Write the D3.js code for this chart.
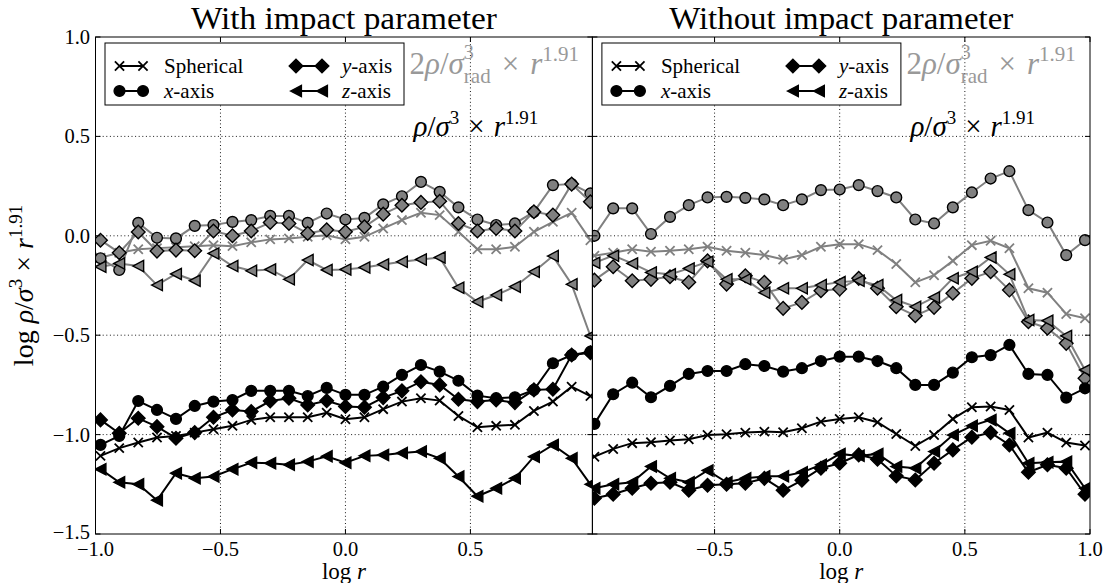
<!DOCTYPE html>
<html><head><meta charset="utf-8">
<script src="https://cdn.jsdelivr.net/npm/d3@7"></script>
<style>body{margin:0;background:#fff}svg{display:block}text{font-family:"Liberation Serif","DejaVu Serif",serif}</style>
</head><body><svg id="c" width="1107" height="583" font-family="Liberation Serif, DejaVu Serif, serif"></svg>
<script>
// ---- data ----
const logR = [-0.980,-0.905,-0.829,-0.754,-0.678,-0.603,-0.528,-0.452,-0.377,-0.301,-0.226,-0.151,-0.075,0.000,0.076,0.151,0.226,0.302,0.377,0.452,0.528,0.603,0.678,0.754,0.830,0.905,0.980];
const panelTitles = ["With impact parameter","Without impact parameter"];
const xTicksLeft = [-1.0,-0.5,0.0,0.5];
const xTicksRight = [-0.5,0.0,0.5,1.0];
const yTicks = [1.0,0.5,0.0,-0.5,-1.0,-1.5];
const legendNames = ["Spherical","x-axis","y-axis","z-axis"];

// With impact parameter: grey = 2rho/sigma_rad^3 r^1.91, black = rho/sigma^3 r^1.91
const withGreySph = [-0.11,-0.085,-0.068,-0.062,-0.058,-0.053,-0.047,-0.052,-0.033,-0.018,-0.013,-0.005,0.003,-0.018,-0.005,0.037,0.079,0.116,0.104,0.02,-0.068,-0.068,-0.055,0.02,0.07,0.116,-0.022];
const withGreyX = [-0.113,-0.172,0.065,-0.010,-0.013,0.050,0.054,0.070,0.079,0.10,0.10,0.065,0.112,0.082,0.090,0.158,0.199,0.271,0.221,0.143,0.082,0.054,0.062,0.12,0.255,0.26,0.213];
const withGreyY = [-0.022,-0.085,0.019,-0.077,-0.072,-0.075,0.024,0.0,0.024,0.067,0.062,0.012,0.03,0.02,0.045,0.109,0.154,0.168,0.174,0.062,0.024,0.037,0.024,0.121,0.104,0.26,0.171];
const withGreyZ = [-0.156,-0.139,-0.152,-0.248,-0.192,-0.226,-0.089,-0.152,-0.176,-0.169,-0.219,-0.122,-0.172,-0.169,-0.159,-0.144,-0.131,-0.119,-0.109,-0.261,-0.332,-0.298,-0.256,-0.181,-0.102,-0.244,-0.504];
const withBlackSph = [-1.107,-1.068,-1.04,-1.015,-1.007,-0.99,-0.973,-0.956,-0.926,-0.913,-0.913,-0.913,-0.89,-0.923,-0.913,-0.872,-0.834,-0.817,-0.829,-0.906,-0.963,-0.956,-0.951,-0.881,-0.834,-0.759,-0.806];
const withBlackX = [-1.052,-1.007,-0.831,-0.876,-0.921,-0.856,-0.834,-0.826,-0.78,-0.78,-0.78,-0.806,-0.765,-0.80,-0.80,-0.759,-0.70,-0.65,-0.683,-0.729,-0.804,-0.817,-0.812,-0.775,-0.641,-0.60,-0.583];
const withBlackY = [-0.926,-0.993,-0.918,-0.96,-1.018,-0.99,-0.913,-0.876,-0.884,-0.831,-0.817,-0.851,-0.83,-0.859,-0.862,-0.814,-0.78,-0.734,-0.75,-0.822,-0.834,-0.826,-0.839,-0.775,-0.772,-0.60,-0.588];
const withBlackZ = [-1.174,-1.24,-1.25,-1.33,-1.194,-1.219,-1.211,-1.174,-1.141,-1.144,-1.152,-1.136,-1.109,-1.141,-1.107,-1.102,-1.093,-1.085,-1.119,-1.211,-1.31,-1.27,-1.22,-1.111,-1.052,-1.119,-1.25];

// Without impact parameter
const withoutGreySph = [-0.10,-0.085,-0.068,-0.08,-0.075,-0.068,-0.055,-0.075,-0.085,-0.097,-0.119,-0.097,-0.055,-0.042,-0.042,-0.072,-0.142,-0.234,-0.198,-0.126,-0.047,-0.025,-0.063,-0.264,-0.286,-0.393,-0.415];
const withoutGreyX = [0.0,0.138,0.138,0.009,0.095,0.154,0.193,0.196,0.191,0.183,0.154,0.183,0.23,0.233,0.255,0.225,0.193,0.082,0.062,0.143,0.218,0.288,0.325,0.129,0.067,-0.097,-0.022];
const withoutGreyY = [-0.223,-0.156,-0.226,-0.219,-0.206,-0.234,-0.126,-0.243,-0.201,-0.234,-0.365,-0.335,-0.276,-0.268,-0.214,-0.264,-0.357,-0.402,-0.36,-0.289,-0.214,-0.181,-0.273,-0.432,-0.465,-0.541,-0.717];
const withoutGreyZ = [-0.136,-0.10,-0.139,-0.184,-0.194,-0.164,-0.131,-0.219,-0.219,-0.286,-0.264,-0.264,-0.248,-0.233,-0.226,-0.248,-0.323,-0.357,-0.31,-0.214,-0.181,-0.109,-0.194,-0.424,-0.427,-0.504,-0.675];
const withoutBlackSph = [-1.111,-1.072,-1.043,-1.038,-1.03,-1.023,-1.002,-0.998,-0.99,-0.985,-0.988,-0.968,-0.935,-0.921,-0.913,-0.938,-0.997,-1.057,-1.002,-0.921,-0.862,-0.859,-0.876,-1.015,-0.99,-1.04,-1.055];
const withoutBlackX = [-0.946,-0.797,-0.739,-0.812,-0.755,-0.695,-0.68,-0.68,-0.646,-0.655,-0.683,-0.666,-0.63,-0.608,-0.608,-0.63,-0.666,-0.75,-0.75,-0.688,-0.611,-0.60,-0.549,-0.695,-0.70,-0.814,-0.767];
const withoutBlackY = [-1.32,-1.30,-1.27,-1.245,-1.24,-1.28,-1.255,-1.25,-1.245,-1.22,-1.28,-1.23,-1.169,-1.144,-1.102,-1.124,-1.208,-1.228,-1.144,-1.077,-1.013,-0.99,-1.052,-1.189,-1.152,-1.169,-1.30];
const withoutBlackZ = [-1.27,-1.25,-1.24,-1.16,-1.22,-1.24,-1.18,-1.24,-1.22,-1.21,-1.21,-1.19,-1.152,-1.097,-1.107,-1.097,-1.161,-1.169,-1.085,-1.002,-0.956,-0.926,-0.993,-1.144,-1.139,-1.136,-1.27];

// ---- layout ----
const svg = d3.select("#c");
const TOP = 37, BOT = 534;
const GREY = "#808080", LABGREY = "#999999";
const panels = [
  {x0:95.5, x1:592.4, dom:[-1.0,0.988], ticks:xTicksLeft, title:panelTitles[0], tl:306,
   series:{grey:[withGreySph,withGreyX,withGreyY,withGreyZ], black:[withBlackSph,withBlackX,withBlackY,withBlackZ]}},
  {x0:592.4, x1:1090, dom:[-0.988,1.0], ticks:xTicksRight, title:panelTitles[1], tl:344,
   series:{grey:[withoutGreySph,withoutGreyX,withoutGreyY,withoutGreyZ], black:[withoutBlackSph,withoutBlackX,withoutBlackY,withoutBlackZ]}}
];
const y = d3.scaleLinear().domain([-1.5,1.0]).range([BOT,TOP]);

const markerPath = {
  0: d3.symbol().type({draw(c){const s=4.6;c.moveTo(-s,-s);c.lineTo(s,s);c.moveTo(-s,s);c.lineTo(s,-s);}})(),
  2: "M0,-6.8L6.8,0L0,6.8L-6.8,0Z",
  3: "M-5.4,0L5.4,-5.6L5.4,5.6Z"
};
function drawMarker(g, k, cx, cy, col){
  if(k===1){
    g.append("circle").attr("cx",cx).attr("cy",cy).attr("r",5.4)
     .attr("fill",col).attr("stroke","#000").attr("stroke-width",1.4);
  } else if(k===0){
    g.append("path").attr("d",markerPath[0]).attr("transform",`translate(${cx},${cy})`)
     .attr("fill","none").attr("stroke",col).attr("stroke-width",1.8);
  } else {
    g.append("path").attr("d",markerPath[k]).attr("transform",`translate(${cx},${cy})`)
     .attr("fill",col).attr("stroke","#000").attr("stroke-width",1.4).attr("stroke-linejoin","miter");
  }
}

function mathText(sel, parts){
  parts.forEach(p=>{
    const t = sel.append("tspan").text(p.t);
    if(p.it) t.attr("font-style","italic");
    if(p.fs) t.attr("font-size",p.fs);
    if(p.dy!==undefined) t.attr("dy",p.dy);
    if(p.dx!==undefined) t.attr("dx",p.dx);
  });
  return sel;
}

panels.forEach((P,pi)=>{
  const x = d3.scaleLinear().domain(P.dom).range([P.x0,P.x1]);
  const g = svg.append("g");
  const cid = "clip"+pi;
  svg.append("clipPath").attr("id",cid).append("rect")
    .attr("x",P.x0).attr("y",TOP).attr("width",P.x1-P.x0).attr("height",BOT-TOP);

  // grid
  const grid = g.append("g").attr("stroke","#000").attr("stroke-width",0.9).attr("stroke-dasharray","1,2.6");
  P.ticks.forEach(v=>{ const xx=x(v); if(xx>P.x0+1 && xx<P.x1-1)
    grid.append("line").attr("x1",xx).attr("x2",xx).attr("y1",TOP).attr("y2",BOT);});
  yTicks.forEach(v=>{ const yy=y(v); if(yy>TOP+1 && yy<BOT-1)
    grid.append("line").attr("x1",P.x0).attr("x2",P.x1).attr("y1",yy).attr("y2",yy);});

  // data
  const dg = g.append("g").attr("clip-path",`url(#${cid})`);
  [["grey",GREY],["black","#000"]].forEach(([key,col])=>{
    P.series[key].forEach((vals,k)=>{
      const line = d3.line().x((d,i)=>x(logR[i])).y(d=>y(d));
      dg.append("path").attr("d",line(vals)).attr("fill","none").attr("stroke",col).attr("stroke-width",2);
      vals.forEach((v,i)=>drawMarker(dg,k,x(logR[i]),y(v),col));
    });
  });

  // frame and ticks
  const ax = g.append("g").attr("stroke","#000").attr("stroke-width",1);
  ax.append("rect").attr("x",P.x0).attr("y",TOP).attr("width",P.x1-P.x0).attr("height",BOT-TOP).attr("fill","none");
  P.ticks.forEach(v=>{const xx=x(v);
    ax.append("line").attr("x1",xx).attr("x2",xx).attr("y1",BOT).attr("y2",BOT-5);
    ax.append("line").attr("x1",xx).attr("x2",xx).attr("y1",TOP).attr("y2",TOP+5);});
  yTicks.forEach(v=>{const yy=y(v);
    ax.append("line").attr("x1",P.x0).attr("x2",P.x0+5).attr("y1",yy).attr("y2",yy);
    ax.append("line").attr("x1",P.x1).attr("x2",P.x1-5).attr("y1",yy).attr("y2",yy);});

  // tick labels
  const fmt = v => (v<0?"\u2212":"")+Math.abs(v).toFixed(1);
  P.ticks.forEach(v=>{
    g.append("text").attr("x",x(v)).attr("y",556).attr("text-anchor","middle")
      .attr("font-size",20.5).text(fmt(v));
  });
  if(pi===0){
    yTicks.forEach(v=>{
      g.append("text").attr("x",90).attr("y",y(v)+(v===-1.5?5:7)).attr("text-anchor","end")
       .attr("font-size",20.5).text(fmt(v));
    });
  }
  // x label
  mathText(g.append("text").attr("x",(P.x0+P.x1)/2).attr("y",579).attr("text-anchor","middle").attr("font-size",23),
    [{t:"log "},{t:"r",it:true}]);
  // title
  g.append("text").attr("x",(P.x0+P.x1)/2).attr("y",29).attr("text-anchor","middle")
    .attr("font-size",32).attr("textLength",P.tl).attr("lengthAdjust","spacingAndGlyphs").text(P.title);

  // annotations
  mathText(g.append("text").attr("x",P.x0+314).attr("y",74).attr("font-size",31).attr("fill",LABGREY),
    [{t:"2"},{t:"ρ",it:true},{t:"/"},{t:"σ",it:true},{t:"3",fs:20,dy:-15},{t:"rad",fs:21,dx:-10,dy:24},
     {t:"×",dx:11,dy:-9},{t:"r",it:true,dx:11},{t:"1.91",fs:21,dy:-13}]);
  mathText(g.append("text").attr("x",P.x0+318).attr("y",136).attr("font-size",29).attr("fill","#000"),
    [{t:"ρ",it:true},{t:"/"},{t:"σ",it:true},{t:"3",fs:19,dy:-12},{t:"×",dx:9,dy:12},{t:"r",it:true,dx:9},{t:"1.91",fs:19,dy:-12}]);

  // legend
  const bx = P.x0+9.5, lg = g.append("g");
  lg.append("rect").attr("x",bx).attr("y",43).attr("width",299).attr("height",62)
    .attr("fill","#fff").attr("stroke","#000").attr("stroke-width",1);
  const slots = [[bx+14.5,bx+38,bx+59,66],[bx+14.5,bx+38,bx+59,91],[bx+191,bx+217,bx+237,66],[bx+191,bx+217,bx+237,91]];
  slots.forEach((s,k)=>{
    lg.append("line").attr("x1",s[0]).attr("x2",s[1]).attr("y1",s[3]).attr("y2",s[3]).attr("stroke","#000").attr("stroke-width",2);
    drawMarker(lg,k,s[0],s[3],"#000"); drawMarker(lg,k,s[1],s[3],"#000");
    const t = lg.append("text").attr("x",s[2]).attr("y",s[3]+6.5).attr("font-size",21);
    if(k===0) t.text(legendNames[0]);
    else mathText(t,[{t:legendNames[k][0],it:true},{t:legendNames[k].slice(1)}]);
  });
});

// y axis label
mathText(svg.append("text").attr("transform","translate(33,285.5) rotate(-90)").attr("text-anchor","middle").attr("font-size",28),
  [{t:"log "},{t:"ρ",it:true},{t:"/"},{t:"σ",it:true},{t:"3",fs:19,dy:-11},{t:"×",dx:7,dy:11},{t:"r",it:true,dx:7},{t:"1.91",fs:19,dy:-11}]);
</script></body></html>
